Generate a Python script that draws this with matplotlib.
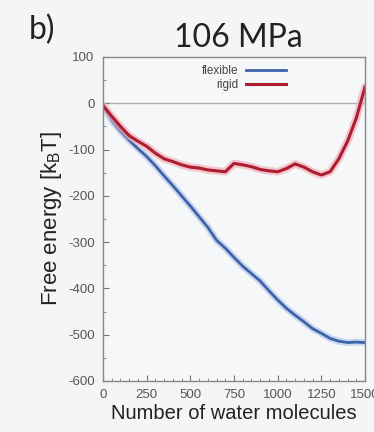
import matplotlib
matplotlib.use("Agg")
import matplotlib.pyplot as plt
from matplotlib.ticker import MultipleLocator

plt.rcParams["font.family"] = ["Liberation Sans", "DejaVu Sans"]
plt.rcParams["axes.unicode_minus"] = False

n_water = [0, 50, 100, 150, 200, 250, 300, 350, 400, 450, 500, 550, 600, 650, 700,
           750, 800, 850, 900, 950, 1000, 1050, 1100, 1150, 1200, 1250, 1300, 1350,
           1400, 1450, 1500]
rigid = [-5, -28, -50, -70, -82, -93, -108, -120, -126, -133, -138, -140, -144, -146,
         -148, -130, -133, -137, -143, -146, -148, -141, -131, -138, -148, -155, -148,
         -120, -82, -32, 35]
flexible = [-5, -37, -60, -80, -98, -115, -135, -157, -178, -200, -222, -245, -268,
            -296, -313, -333, -352, -368, -384, -405, -425, -443, -458, -472, -487,
            -497, -508, -514, -517, -516, -517]

title = "106 MPa"
panel = "b)"
xlabel = "Number of water molecules"
ylabel = "Free energy [k$_\\mathregular{B}$T]"

fig = plt.figure(figsize=(3.74, 4.32), dpi=100)
fig.patch.set_facecolor("#f3f5f7")
ax = fig.add_axes([0.2754, 0.1181, 0.7006, 0.75])
ax.set_facecolor("#f5f7f9")

blue = "#3d63a8"
red = "#ad1c30"
ax.plot(n_water, flexible, color="#b8c8ea", lw=5, alpha=0.7, solid_capstyle="round")
ax.plot(n_water, flexible, color=blue, lw=2.0, label="flexible")
ax.plot(n_water, rigid, color="#f0b0b8", lw=5.5, alpha=0.7, solid_capstyle="round")
ax.plot(n_water, rigid, color=red, lw=2.2, label="rigid")
ax.axhline(0, color="#b0b0b0", lw=1.0, zorder=0)

ax.set_xlim(0, 1500)
ax.set_ylim(-600, 100)
ax.xaxis.set_major_locator(MultipleLocator(250))
ax.xaxis.set_minor_locator(MultipleLocator(50))
ax.yaxis.set_major_locator(MultipleLocator(100))
ax.yaxis.set_minor_locator(MultipleLocator(50))
ax.tick_params(which="both", direction="in", color="#777777", labelcolor="#555555",
               labelsize=9.5)
ax.tick_params(which="major", length=4)
ax.tick_params(which="minor", length=2)
ax.tick_params(axis="x", pad=6)
ax.tick_params(axis="y", pad=6)
for s in ax.spines.values():
    s.set_color("#888888")
    s.set_linewidth(1.0)

ax.set_xlabel(xlabel, fontsize=14.5, color="#222222", labelpad=2)
ax.set_ylabel(ylabel, fontsize=16, color="#222222", labelpad=3)

leg = ax.legend(loc="upper right", bbox_to_anchor=(0.73, 1.0), frameon=False,
                markerfirst=False, fontsize=8.5, handlelength=3.4, labelspacing=0.15,
                borderaxespad=0.3, handletextpad=0.6)
for t in leg.get_texts():
    t.set_color("#444444")

fig.text(0.637, 0.913, title, fontsize=23, family=["Lato", "DejaVu Sans"],
         color="#222222", ha="center", va="center")
fig.text(0.078, 0.93, panel, fontsize=23, family=["Lato", "DejaVu Sans"],
         color="#222222", ha="left", va="center")

fig.savefig("out.png", dpi=100, facecolor=fig.get_facecolor())
